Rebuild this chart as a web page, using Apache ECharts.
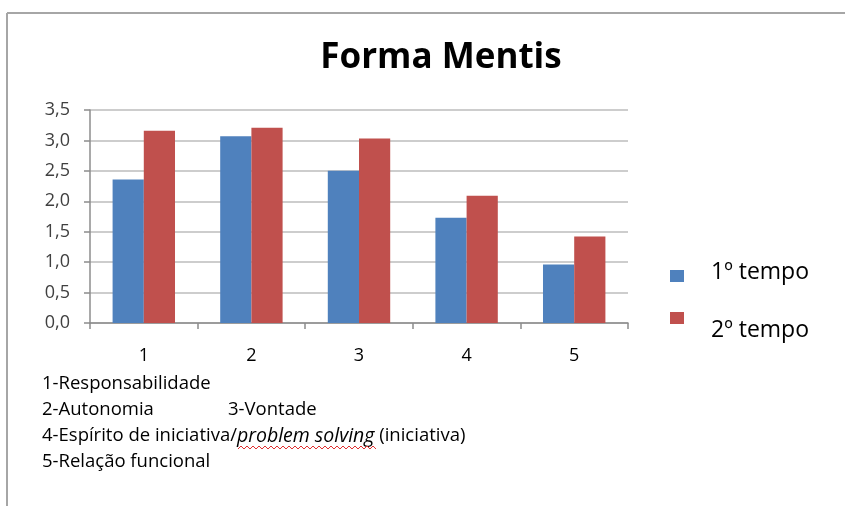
<!DOCTYPE html>
<html>
<head>
<meta charset="utf-8">
<script src="https://cdn.jsdelivr.net/npm/echarts@6/dist/echarts.min.js"></script>
<style>
  html, body { margin: 0; padding: 0; background: #fff; }
  #chart { width: 845px; height: 506px; }
</style>
</head>
<body>
<div id="chart"></div>
<script>
// Categories (numbered competences) and mean scores for the two moments
var categories = ['1', '2', '3', '4', '5'];
var seriesNames = ['1º tempo', '2º tempo'];
var tempo1 = [2.36, 3.07, 2.50, 1.73, 0.96];
var tempo2 = [3.16, 3.21, 3.03, 2.09, 1.42];
var yMin = 0, yMax = 3.5, yStep = 0.5;

// Key to the numbered categories, printed under the chart
var notes = [
  '1-Responsabilidade',
  '2-Autonomia',
  '4-Espírito de iniciativa/',
  '5-Relação funcional'
];

var FONT = '"Open Sans", Lato, sans-serif';
var chart = echarts.init(document.getElementById('chart'));

// small red zigzag under the italic words
var wave = [];
for (var x = 238; x <= 376; x += 3) {
  wave.push([x, (Math.round((x - 238) / 3) % 2) ? 446 : 449]);
}

chart.setOption({
  animation: false,
  backgroundColor: '#ffffff',
  color: ['#4F81BD', '#C0504D'],
  title: {
    text: 'Forma Mentis',
    left: 436, top: 36,
    textAlign: 'center',
    textStyle: { fontFamily: FONT, fontWeight: 'bold', fontSize: 35, color: '#000' }
  },
  legend: [{
    // label sits a little above its swatch
    data: [seriesNames[0]],
    left: 665, top: 256,
    orient: 'vertical',
    icon: 'rect', itemWidth: 14, itemHeight: 12,
    selectedMode: false,
    formatter: function (name) { return name + '\n'; },
    textStyle: { fontFamily: FONT, fontSize: 23, color: '#000', lineHeight: 7, padding: [0, 0, 0, 22] }
  }, {
    // label sits well below its swatch
    data: [seriesNames[1]],
    left: 665, top: 289,
    orient: 'vertical',
    icon: 'rect', itemWidth: 14, itemHeight: 12,
    selectedMode: false,
    formatter: function (name) { return '\n' + name; },
    textStyle: { fontFamily: FONT, fontSize: 23, color: '#000', lineHeight: 24, padding: [0, 0, 0, 22] }
  }],
  grid: { left: 90, right: 217, top: 110, bottom: 183 },
  xAxis: {
    type: 'category',
    data: categories,
    axisLine: { lineStyle: { color: '#8c8c8c', width: 1.5 } },
    axisTick: { show: true, length: 6, lineStyle: { color: '#8c8c8c', width: 1.5 } },
    axisLabel: { margin: 24, fontFamily: FONT, fontSize: 18, color: '#000' }
  },
  yAxis: {
    type: 'value',
    min: yMin, max: yMax, interval: yStep,
    axisLine: { show: true, lineStyle: { color: '#8c8c8c', width: 1.5 } },
    axisTick: { show: true, length: 6, lineStyle: { color: '#8c8c8c', width: 1.5 } },
    splitLine: { lineStyle: { color: '#bdbdbd', width: 1.5 } },
    axisLabel: {
      margin: 20, fontFamily: FONT, fontSize: 18, color: '#404040',
      formatter: function (v) { return v.toFixed(1).replace('.', ','); }
    }
  },
  series: [{
    name: seriesNames[0], type: 'bar', data: tempo1,
    barGap: '0%', barCategoryGap: '42%'
  }, {
    name: seriesNames[1], type: 'bar', data: tempo2,
    barGap: '0%', barCategoryGap: '42%'
  }],
  graphic: [
    // chart frame: top and left edges
    { type: 'line', shape: { x1: 7, y1: 13, x2: 845, y2: 13 }, style: { stroke: '#a6a6a6', lineWidth: 2 } },
    { type: 'line', shape: { x1: 7, y1: 13, x2: 7, y2: 506 }, style: { stroke: '#a6a6a6', lineWidth: 2 } },
    { type: 'text', left: 42, top: 374, style: { text: notes[0], font: '18.5px ' + FONT, fill: '#000' } },
    { type: 'text', left: 42, top: 400, style: { text: notes[1], font: '18.5px ' + FONT, fill: '#000' } },
    { type: 'text', left: 228, top: 400, style: { text: '3-Vontade', font: '18.5px ' + FONT, fill: '#000' } },
    { type: 'text', left: 42, top: 426, style: {
        text: '{n|' + notes[2] + '}{i|problem solving}{n| (iniciativa)}',
        rich: {
          n: { fontFamily: FONT, fontSize: 18.5, fill: '#000' },
          i: { fontFamily: FONT, fontSize: 19.5, fontStyle: 'italic', fill: '#000' }
        }
    } },
    { type: 'polyline', shape: { points: wave }, style: { stroke: '#e03030', lineWidth: 1, fill: null } },
    { type: 'text', left: 42, top: 452, style: { text: notes[3], font: '18.5px ' + FONT, fill: '#000' } }
  ]
});
</script>
</body>
</html>
